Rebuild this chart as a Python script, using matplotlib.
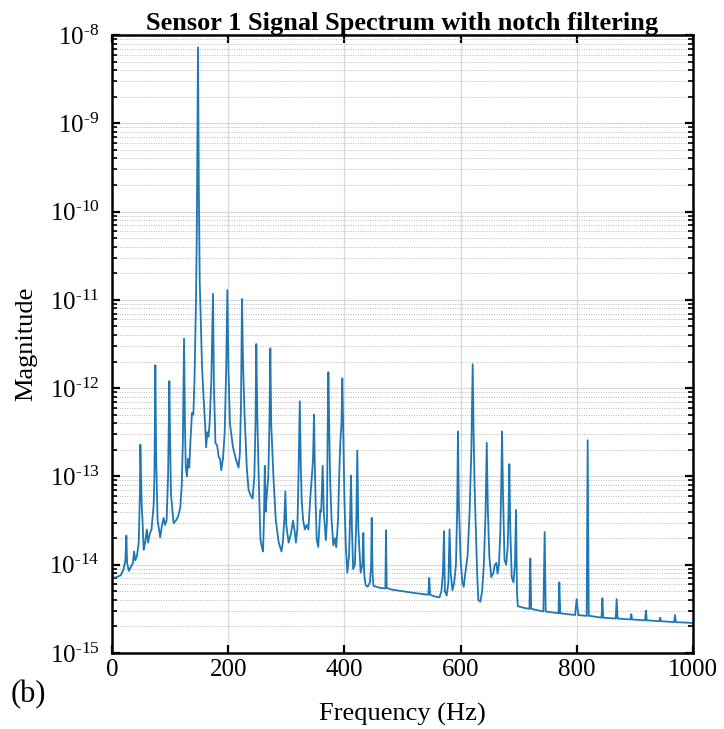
import numpy as np
import matplotlib
matplotlib.use("Agg")
import matplotlib.pyplot as plt
from matplotlib.ticker import FixedLocator, NullFormatter, FuncFormatter

# ---- data (frequency in Hz, log10 of magnitude) ----
freq_hz = [
    0, 8, 15, 20, 23, 24.7, 26, 29, 33, 36, 38, 40, 43, 46, 48, 48.8, 50, 51, 52.5, 54.5,
    57, 60, 62, 65, 68, 71.7, 73, 74.6, 76, 78.5, 83, 86, 89, 91, 94, 96.5, 98.7, 100, 101.5, 106,
    110, 114, 117.6, 120, 122, 124, 125.5, 127, 129, 131, 133, 135, 137.7, 140, 142, 144.6, 146, 148, 149.5, 151,
    153, 155, 157.5, 160.5, 162, 164, 166, 168, 171, 173.8, 175.5, 178, 181, 183.6, 186, 188, 191, 194, 196.5, 198.5,
    200.5, 203, 208, 213, 217.8, 220, 222, 223.7, 225.5, 228, 232, 235, 239, 242, 245, 247, 248.4, 250, 252.6, 255.5,
    258, 260, 261.5, 263, 264.5, 266.5, 269, 271, 272.5, 274, 278, 282, 287, 291.6, 294, 296.5, 298.4, 300, 304, 308,
    311.5, 314, 316.5, 319, 321, 323.2, 325, 326.5, 329, 332, 335, 338, 341, 344, 346, 347.7, 349, 350.5, 352.4, 355,
    357, 358.5, 360, 362.6, 364.5, 368, 370, 371, 372.4, 374, 375.5, 378, 381, 384, 386, 389, 391, 393, 395, 396.4,
    398, 400, 402.5, 405, 408, 410, 411.4, 413, 415, 418, 420.5, 422.2, 424, 428, 431, 432.6, 434, 436.5, 440, 444,
    446, 447, 448.5, 450, 460, 470.5, 471.6, 472.8, 480, 500, 520, 544.5, 546, 547.5, 556, 563.6, 567, 569.5, 571.4, 573,
    576, 579, 581, 583, 586, 589, 592, 594, 595.5, 597, 600, 603, 605.4, 608, 612, 615.5, 618.5, 620.8, 622.5, 624,
    626.5, 628.5, 630.5, 634, 637, 640, 643, 645, 647, 649.5, 652.7, 656, 659, 661.8, 663.5, 666, 668.5, 670, 671.3, 673,
    675.6, 678.5, 681, 682.5, 683.9, 685.5, 688, 691, 693.5, 695.4, 697, 698.5, 710, 718.5, 720, 721.5, 742.5, 744.7, 746.5, 768.5,
    769.9, 771.5, 797, 799.8, 802.5, 817, 818.7, 820.5, 823, 842.5, 844, 845.5, 867, 868.6, 870.2, 892.5, 893.8, 895, 917.5, 919,
    920.5, 942, 943.5, 945, 967.5, 969, 970.5, 1000,
]
log10_magnitude = [
    -14.15, -14.14, -14.12, -14.05, -13.95, -13.67, -13.98, -14.07, -14.02, -13.98, -13.85, -13.95, -13.90, -13.75, -13.20, -12.64, -13.00, -13.30, -13.50, -13.83,
    -13.75, -13.60, -13.75, -13.65, -13.60, -13.32, -13.00, -11.74, -12.80, -13.50, -13.69, -13.55, -13.47, -13.55, -13.50, -13.00, -11.92, -12.60, -13.20, -13.53,
    -13.50, -13.45, -13.35, -13.10, -12.60, -11.44, -12.40, -12.90, -13.00, -12.80, -12.90, -12.60, -12.28, -12.30, -11.90, -11.00, -10.20, -8.14, -9.80, -10.80,
    -11.30, -11.76, -12.10, -12.44, -12.67, -12.50, -12.55, -12.40, -11.90, -10.93, -12.00, -12.62, -12.65, -12.78, -12.80, -12.93, -12.80, -12.50, -11.80, -10.89,
    -11.80, -12.40, -12.66, -12.80, -12.90, -12.75, -12.20, -10.99, -11.70, -12.28, -12.90, -13.15, -13.22, -13.25, -13.00, -12.40, -11.50, -12.30, -13.03, -13.72,
    -13.80, -13.85, -13.50, -12.88, -13.40, -13.20, -13.00, -12.40, -11.55, -12.40, -13.03, -13.50, -13.75, -13.85, -13.75, -13.50, -13.17, -13.55, -13.75, -13.65,
    -13.50, -13.60, -13.75, -13.60, -13.00, -12.15, -12.90, -13.27, -13.50, -13.60, -13.55, -13.60, -13.27, -13.00, -12.80, -12.30, -12.85, -13.30, -13.72, -13.80,
    -13.55, -13.38, -13.40, -12.88, -13.40, -13.72, -13.50, -12.60, -11.82, -12.50, -13.05, -13.50, -13.78, -13.70, -13.80, -13.50, -13.00, -12.60, -12.40, -11.89,
    -12.50, -13.26, -13.80, -14.09, -13.90, -13.40, -12.99, -13.60, -14.05, -14.00, -13.50, -12.71, -13.60, -14.09, -14.00, -13.64, -14.10, -14.23, -14.25, -14.20,
    -14.00, -13.47, -14.10, -14.24, -14.26, -14.27, -13.61, -14.26, -14.28, -14.30, -14.32, -14.34, -14.15, -14.34, -14.36, -14.37, -14.30, -14.10, -13.62, -14.30,
    -14.35, -14.20, -13.60, -14.10, -14.29, -14.20, -14.00, -13.40, -12.49, -13.30, -13.95, -14.20, -14.25, -14.10, -13.90, -13.40, -12.70, -11.73, -12.55, -13.10,
    -13.64, -14.10, -14.40, -14.42, -14.30, -14.00, -13.40, -12.62, -13.40, -13.91, -14.14, -14.10, -14.00, -13.98, -14.10, -14.00, -13.60, -13.10, -12.49, -13.20,
    -13.95, -14.00, -13.80, -13.40, -12.86, -13.60, -14.14, -14.20, -14.00, -13.38, -14.30, -14.47, -14.49, -14.50, -13.93, -14.50, -14.53, -13.63, -14.53, -14.55,
    -14.20, -14.55, -14.57, -14.39, -14.57, -14.58, -12.59, -14.58, -14.58, -14.60, -14.38, -14.60, -14.61, -14.39, -14.61, -14.62, -14.56, -14.62, -14.63, -14.52,
    -14.63, -14.64, -14.60, -14.64, -14.65, -14.57, -14.65, -14.66,
]

x_ticks = [0, 200, 400, 600, 800, 1000]
y_decades = [-15, -14, -13, -12, -11, -10, -9, -8]
title_text = "Sensor 1 Signal Spectrum with notch filtering"
x_label = "Frequency (Hz)"
y_label = "Magnitude"
panel_label = "(b)"

magnitude = 10.0 ** np.asarray(log10_magnitude)
y_major = [10.0 ** e for e in y_decades]
y_minor = [m * 10.0 ** e for e in y_decades[:-1] for m in range(2, 10)]

plt.rcParams["font.family"] = ["Liberation Serif", "DejaVu Serif"]
plt.rcParams["mathtext.fontset"] = "custom"
plt.rcParams["mathtext.rm"] = "Liberation Serif"
plt.rcParams["mathtext.it"] = "Liberation Serif:italic"
plt.rcParams["mathtext.bf"] = "Liberation Serif:bold"

fig = plt.figure(figsize=(7.24, 7.29), dpi=100)
ax = fig.add_axes([112 / 724, 1 - 653 / 729, (693 - 112) / 724, (653 - 35) / 729])

ax.plot(freq_hz, magnitude, color="#1f77b4", linewidth=1.3)
ax.set_yscale("log")
ax.set_xlim(0, 1000)
ax.set_ylim(1e-15, 1e-8)


def ylog_fmt(v, pos):
    e = int(round(np.log10(v)))
    sign = r"\text{-}" if e < 0 else ""
    return r"$\mathregular{10^{%s%d}}$" % (sign, abs(e))


ax.xaxis.set_major_locator(FixedLocator(x_ticks))
ax.yaxis.set_major_locator(FixedLocator(y_major))
ax.yaxis.set_minor_locator(FixedLocator(y_minor))
ax.yaxis.set_minor_formatter(NullFormatter())
ax.yaxis.set_major_formatter(FuncFormatter(ylog_fmt))

ax.grid(True, which="major", color="#d9d9d9", linewidth=0.9, linestyle="-")
ax.grid(True, which="minor", axis="y", color="#b8b8b8", linewidth=0.7, linestyle=(0, (1, 1.5)))
ax.set_axisbelow(True)

ax.tick_params(which="both", direction="in", top=True, right=True, colors="black", labelsize=18)
ax.tick_params(which="major", length=6, width=1.6)
ax.tick_params(which="minor", length=3.5, width=1.2)
ax.tick_params(axis="x", pad=4)
ax.tick_params(axis="y", pad=9)
for s in ax.spines.values():
    s.set_linewidth(1.8)
    s.set_color("black")

ax.set_title(title_text, fontsize=19, fontweight="bold", pad=1)
ax.set_xlabel(x_label, fontsize=19)
ax.xaxis.set_label_coords(0.5, -0.080)
ax.set_ylabel(y_label, fontsize=19)
ax.yaxis.set_label_coords(-0.129, 0.5)
fig.text(11 / 724, 1 - 695 / 729, panel_label, fontsize=22, va="center", ha="left")

fig.savefig("out.png", dpi=100)
